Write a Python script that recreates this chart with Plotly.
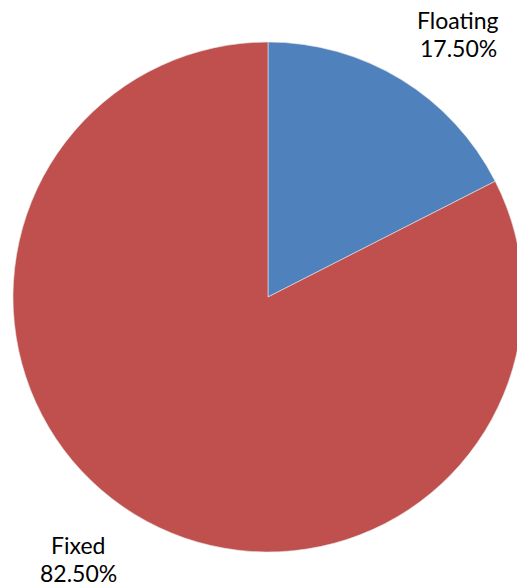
import plotly.graph_objects as go

# Rate type split
labels = ["Floating", "Fixed"]
values = [17.50, 82.50]
colors = ["#4F81BD", "#C0504D"]

W, H = 530, 588

fig = go.Figure(
    go.Pie(
        labels=labels,
        values=values,
        sort=False,
        direction="clockwise",
        rotation=0,
        marker=dict(colors=colors, line=dict(color="#e8e8e8", width=0.6)),
        textinfo="none",
        hoverinfo="label+percent",
        showlegend=False,
        domain=dict(x=[13 / W, 523 / W], y=[1 - 552 / H, 1 - 42 / H]),
    )
)

# Outside labels: name on top, percentage below
label_pos = {"Floating": (458, 20), "Fixed": (78, 545)}
font = dict(family="Lato, Carlito, Calibri, sans-serif", size=23, color="#000000")
for name, val in zip(labels, values):
    px, py = label_pos[name]
    for i, txt in enumerate([name, f"{val:.2f}%"]):
        fig.add_annotation(
            x=px / W, y=1 - (py + 28 * i) / H, xref="paper", yref="paper",
            text=txt, showarrow=False, xanchor="center", yanchor="middle",
            font=font, borderpad=0,
        )

fig.update_layout(
    width=W, height=H,
    margin=dict(l=0, r=0, t=0, b=0),
    paper_bgcolor="white", plot_bgcolor="white",
)

fig.write_html(
    "out.html",
    config={"displayModeBar": False},
    post_script="document.body.style.overflow='hidden';document.documentElement.style.overflow='hidden';",
)
